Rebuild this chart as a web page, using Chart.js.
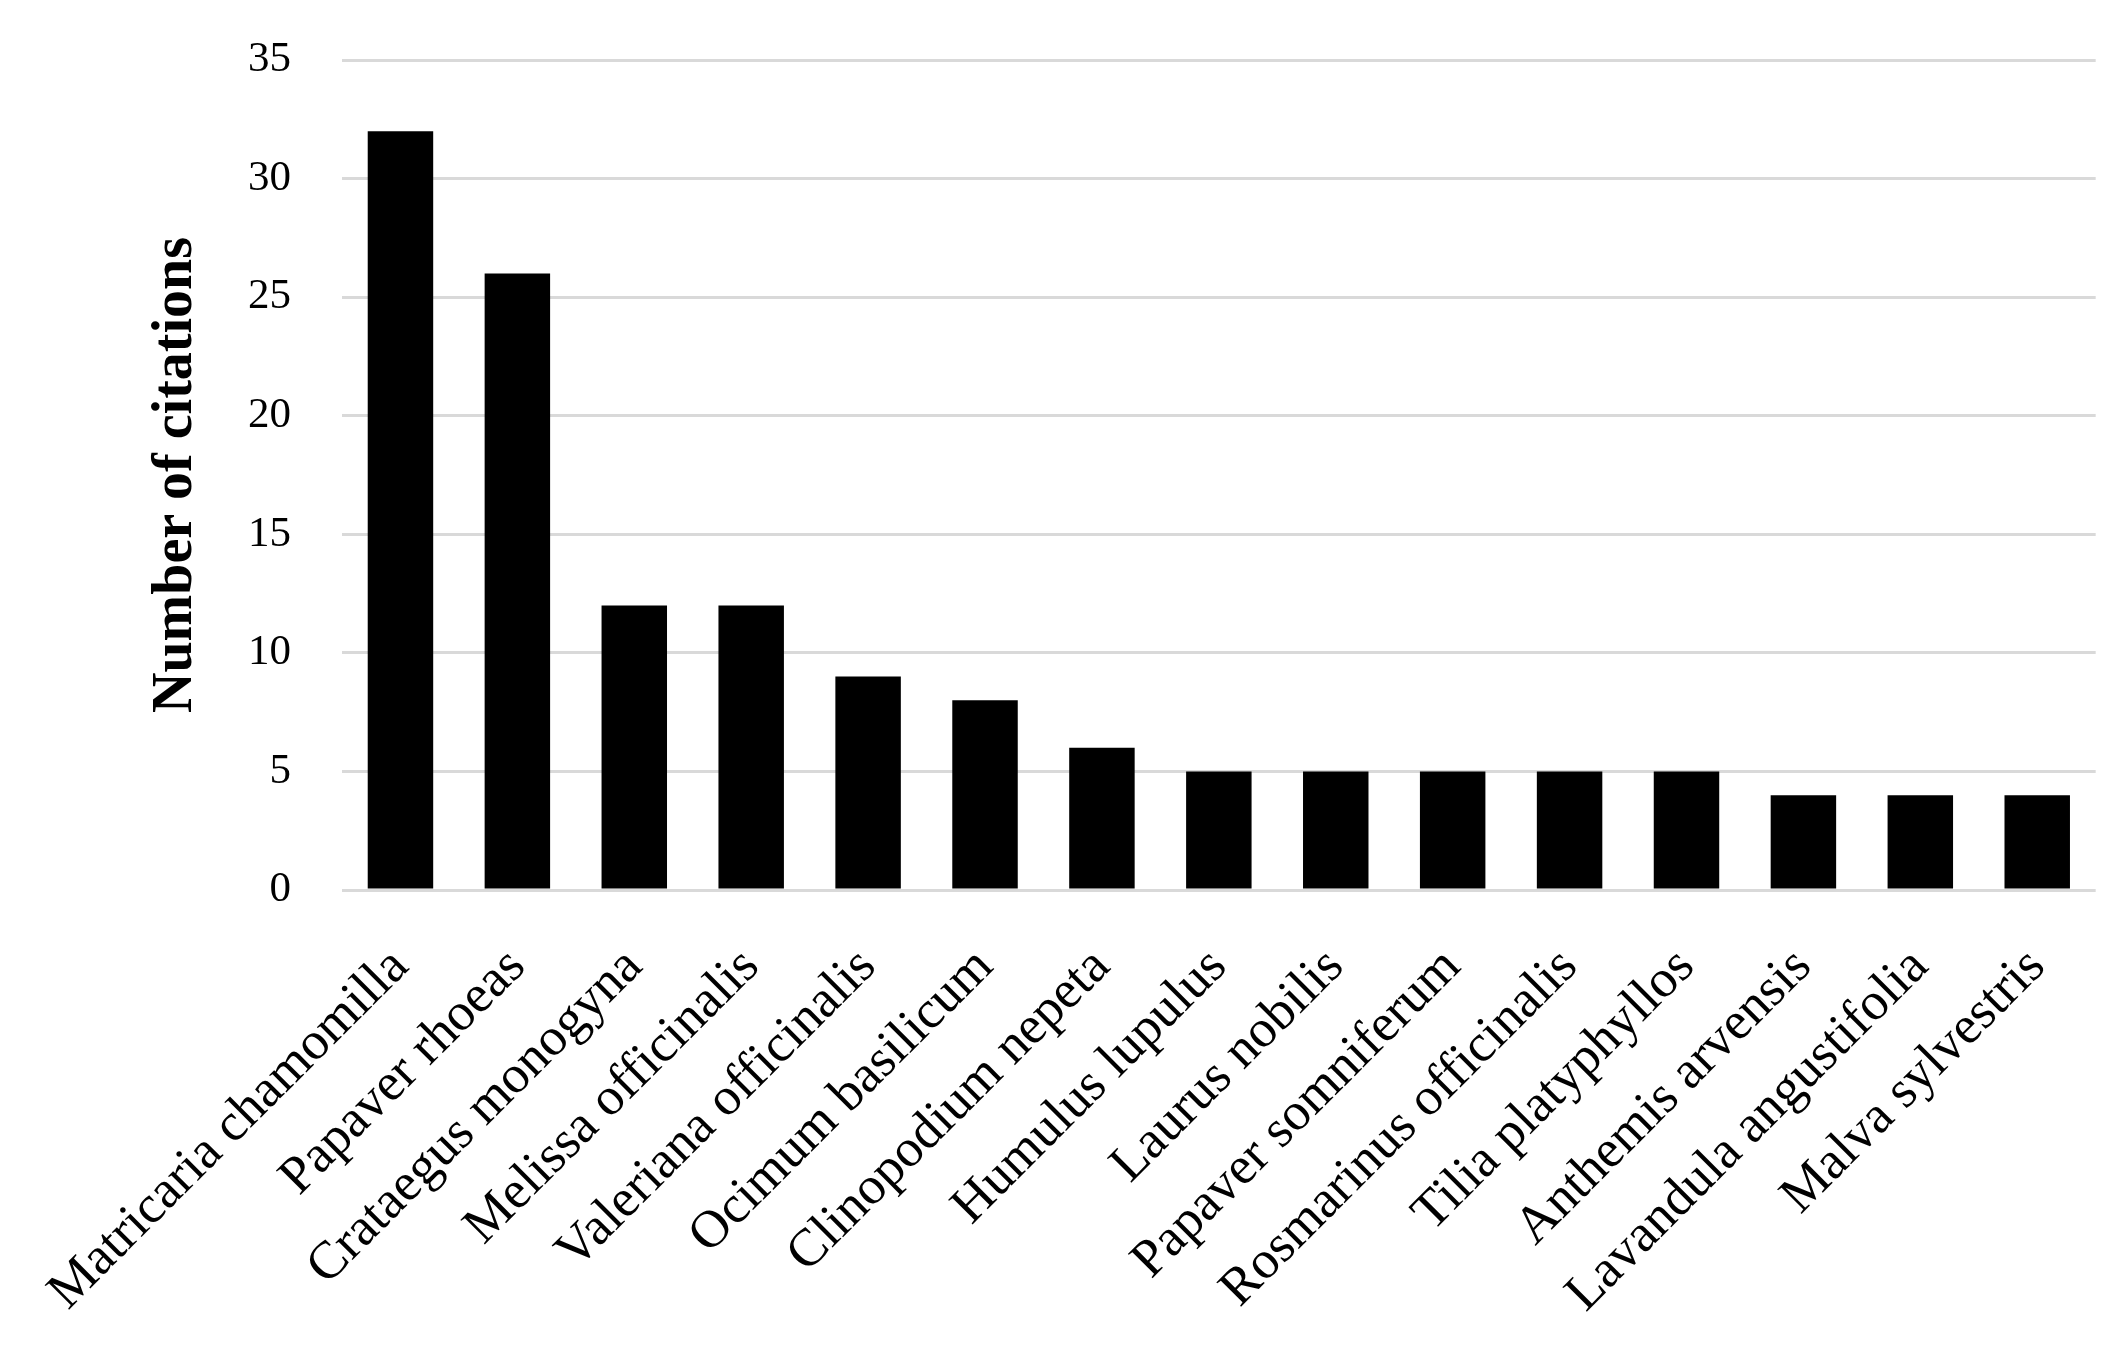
<!DOCTYPE html>
<html>
<head>
<meta charset="utf-8">
<script src="https://cdn.jsdelivr.net/npm/chart.js@4"></script>
<style>
html,body{margin:0;padding:0;background:#fff;}
#wrap{width:2121px;height:1361px;}
</style>
</head>
<body>
<div id="wrap"><canvas id="c" width="2121" height="1361"></canvas></div>
<script>
const categories = [
  "Matricaria chamomilla", "Papaver rhoeas", "Crataegus monogyna", "Melissa officinalis",
  "Valeriana officinalis", "Ocimum basilicum", "Clinopodium nepeta", "Humulus lupulus",
  "Laurus nobilis", "Papaver somniferum", "Rosmarinus officinalis", "Tilia platyphyllos",
  "Anthemis arvensis", "Lavandula angustifolia", "Malva sylvestris"
];
const citations = [32, 26, 12, 12, 9, 8, 6, 5, 5, 5, 5, 5, 4, 4, 4];
const yTicks = [0, 5, 10, 15, 20, 25, 30, 35];
const yTitle = "Number of citations";

new Chart(document.getElementById('c'), {
  type: 'bar',
  data: {
    labels: categories,
    datasets: [{
      data: citations,
      backgroundColor: '#000000',
      borderWidth: 0,
      categoryPercentage: 1.0,
      barPercentage: 0.56
    }]
  },
  options: {
    responsive: false,
    animation: false,
    devicePixelRatio: 1,
    layout: { padding: { top: 60, right: 24, left: 0, bottom: 0 } },
    plugins: { legend: { display: false }, tooltip: { enabled: false } },
    scales: {
      x: {
        grid: { display: false },
        border: { display: false },
        ticks: {
          autoSkip: false,
          maxRotation: 45,
          minRotation: 45,
          padding: 38,
          color: '#000',
          font: { family: 'Liberation Serif', size: 53 }
        },
        afterFit(scale) { scale.height = 471; }
      },
      y: {
        min: 0,
        max: 35,
        afterBuildTicks(scale) { scale.ticks = yTicks.map(v => ({ value: v })); },
        grid: { color: '#d9d9d9', lineWidth: 3, drawTicks: true, tickLength: 51, tickColor: 'rgba(0,0,0,0)' },
        border: { display: false },
        ticks: {
          padding: 0,
          color: '#000',
          font: { family: 'Liberation Serif', size: 43 }
        },
        title: {
          display: true,
          text: yTitle,
          color: '#000',
          padding: { top: 143, bottom: 0 },
          font: { family: 'Liberation Serif', size: 56, weight: 'bold' }
        },
        afterFit(scale) { scale.width = 342; }
      }
    }
  }
});
</script>
</body>
</html>
